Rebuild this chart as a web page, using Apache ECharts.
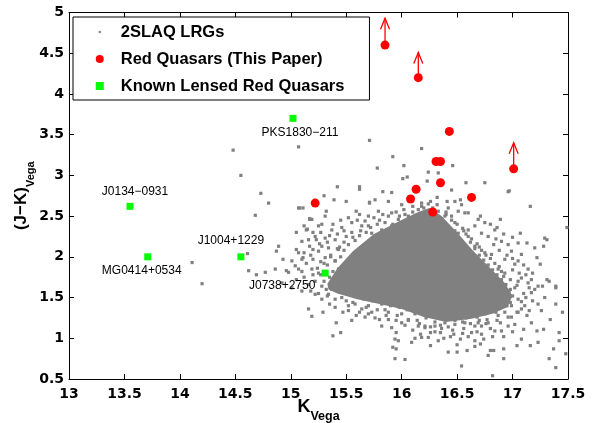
<!DOCTYPE html>
<html lang="en">
<head>
    <meta charset="UTF-8">
    <title>K vs J-K</title>
    <script src="https://cdn.jsdelivr.net/npm/echarts@6/dist/echarts.min.js"></script>
</head>
<style>
    html, body {
        margin: 0;
        height: 100%;
        background: #fff;
    }
</style>
<body>
<div id="main" style="width: 595px;height:423px"></div>
<script type="text/javascript">
    // red quasars (this paper)
    var redK = [15.85, 16.15, 16.43, 16.31, 16.35, 16.35, 17.01, 16.13, 16.08, 16.63, 16.28, 15.22];
    var redJK = [4.60, 4.20, 3.54, 3.17, 3.17, 2.91, 3.08, 2.83, 2.71, 2.73, 2.55, 2.66];

    // lower limits (arrows): base point and arrow tip
    var limitK = [15.85, 16.15, 17.01];
    var limitJK = [4.60, 4.20, 3.08];
    var limitTop = [4.93, 4.51, 3.40];

    // known lensed red quasars
    var lensNames = ['PKS1830\u2212211', 'J0134\u22120931', 'MG0414+0534', 'J1004+1229', 'J0738+2750'];
    var lensK = [15.02, 13.55, 13.71, 14.55, 15.31];
    var lensJK = [3.70, 2.62, 2.00, 2.00, 1.80];
    var lensLabelOffsets = [[7, 14], [5, -15], [-6, 14], [-10, -16], [-43, 13]];

    // 2SLAQ LRGs: outline of the solid dense core
    var lrgCore = [
        [15.33, 1.67], [15.42, 1.86], [15.56, 2.07], [15.75, 2.28], [15.98, 2.44], [16.15, 2.55],
        [16.25, 2.60], [16.36, 2.50], [16.50, 2.30], [16.64, 2.08], [16.80, 1.86], [16.93, 1.68],
        [17.00, 1.52], [16.95, 1.38], [16.82, 1.30], [16.63, 1.24], [16.40, 1.20], [16.20, 1.26],
        [16.00, 1.36], [15.80, 1.42], [15.60, 1.48], [15.42, 1.55], [15.34, 1.60]
    ];

    // 2SLAQ LRGs: individual points outside the core
    var lrgPoints = [
        [14.48, 3.31], [14.55, 3.00], [14.73, 2.78], [14.80, 2.66], [14.68, 2.51], [15.07, 2.60], [15.07, 3.35],
        [15.17, 2.47], [15.15, 2.34], [14.61, 2.04], [14.11, 1.93], [14.20, 1.67], [14.62, 1.83], [14.69, 1.78],
        [14.77, 1.81], [14.86, 1.85], [14.89, 2.13], [14.87, 2.07], [14.98, 1.81], [15.07, 2.05], [15.04, 1.89],
        [15.10, 1.97], [15.16, 2.21], [15.25, 2.38], [15.23, 2.21], [15.20, 2.09], [15.28, 2.13],
        [15.71, 3.43], [16.18, 3.33], [15.92, 3.23], [16.02, 3.12], [15.78, 3.09], [16.46, 3.12], [16.24, 3.04],
        [16.05, 2.98], [16.01, 2.96], [16.33, 3.03], [16.58, 2.91], [16.75, 2.91], [16.23, 2.93], [15.42, 2.86],
        [15.62, 2.83], [15.83, 2.80], [15.91, 2.79], [16.45, 2.82], [16.97, 2.81], [15.30, 2.75], [15.39, 2.70],
        [15.50, 2.68], [15.71, 2.67], [15.76, 2.70], [16.32, 2.73], [16.41, 2.68], [16.48, 2.68], [16.53, 2.70],
        [17.16, 2.62], [15.11, 2.60], [16.89, 2.46], [17.49, 2.36], [17.29, 2.23], [17.07, 2.29], [15.17, 2.46],
        [15.14, 2.33], [15.31, 2.50], [15.62, 2.52],
        [16.96, 2.80], [16.24, 2.65], [16.54, 2.64], [16.39, 2.50], [16.51, 2.56], [16.60, 2.54], [16.71, 2.50],
        [16.75, 2.42], [16.86, 2.36], [16.78, 2.25], [16.90, 2.19], [16.96, 2.15], [16.83, 2.15], [17.05, 2.17],
        [17.13, 2.17], [17.31, 2.21], [17.20, 2.11], [17.28, 2.13], [16.99, 2.07], [17.08, 2.03], [16.93, 1.97],
        [17.02, 1.91], [17.22, 1.99], [17.25, 1.91], [17.14, 1.85], [16.87, 1.85], [16.92, 1.76], [17.08, 1.74],
        [17.17, 1.72], [17.31, 1.72], [17.39, 1.64], [17.27, 1.64], [16.81, 2.03], [16.72, 1.93], [16.75, 2.05],
        [16.66, 2.13],
        [17.05, 1.70], [17.14, 1.68], [17.23, 1.64], [17.39, 1.62], [17.17, 1.56], [17.05, 1.48], [17.29, 1.50],
        [17.11, 1.40], [17.23, 1.42], [17.39, 1.42], [17.45, 1.32], [17.34, 1.23], [17.17, 1.19], [17.02, 1.17],
        [17.28, 1.11], [17.22, 1.09], [17.10, 1.11], [17.42, 1.07], [17.08, 0.99], [17.23, 0.95], [17.42, 0.97],
        [17.04, 0.91], [17.16, 0.91], [17.33, 0.75], [17.39, 0.64], [17.48, 0.81], [17.37, 0.87], [16.92, 0.87],
        [16.92, 0.75], [16.80, 0.85], [16.78, 0.79], [16.83, 0.85], [16.54, 0.66], [16.42, 0.83], [16.50, 0.83],
        [16.59, 0.85], [16.82, 0.54], [16.26, 0.91], [16.71, 0.93], [16.74, 0.99], [16.66, 0.97], [16.33, 0.97],
        [16.18, 1.01], [16.26, 1.07], [16.35, 1.07], [16.47, 1.05], [16.53, 0.99], [16.63, 1.07], [16.90, 1.09],
        [16.84, 1.09], [16.96, 1.15], [16.89, 1.19], [16.72, 1.15], [16.78, 1.19], [16.99, 1.26], [16.93, 1.32],
        [16.87, 1.28], [16.77, 1.23], [16.69, 1.19], [16.57, 1.19], [16.48, 1.17], [16.39, 1.19], [16.30, 1.15],
        [16.21, 1.13], [17.04, 1.32], [16.99, 1.40], [16.93, 1.48], [17.13, 1.28], [17.26, 1.34], [16.98, 1.60],
        [17.33, 1.70],
        [15.10, 1.58], [15.16, 1.36], [15.19, 1.27], [15.29, 1.32], [15.35, 1.42], [15.38, 1.03], [15.45, 1.07],
        [15.41, 1.19], [15.47, 1.32], [15.52, 1.40], [15.64, 1.36], [15.67, 1.26], [15.80, 1.23], [15.82, 1.15],
        [15.91, 1.13], [15.95, 1.07], [15.94, 0.99], [15.97, 0.97], [15.92, 0.89], [15.95, 0.87], [15.94, 0.75],
        [16.03, 0.74], [16.09, 0.95], [16.17, 1.05], [16.24, 1.01], [16.21, 1.15], [16.15, 1.15], [16.06, 1.23],
        [16.00, 1.19], [15.88, 1.23], [15.73, 1.32], [15.59, 1.28], [15.28, 1.48], [15.22, 1.54], [15.34, 1.54],
        [15.46, 1.50], [15.56, 1.44], [15.40, 1.38], [15.16, 1.66], [15.28, 1.64], [15.37, 1.60], [15.01, 1.62],
        [14.92, 1.68],
        [15.08, 2.60], [15.19, 2.46], [15.32, 2.56], [15.62, 2.86], [15.71, 2.66], [15.88, 2.68], [15.59, 2.56],
        [15.70, 2.50], [15.79, 2.56], [15.91, 2.54], [16.00, 2.64], [15.28, 2.40], [15.37, 2.33], [15.46, 2.36],
        [15.55, 2.42], [15.64, 2.38], [15.10, 2.19], [15.22, 2.25], [15.31, 2.23], [15.40, 2.21], [15.50, 2.25],
        [15.05, 2.09], [15.17, 2.13], [15.25, 2.07], [15.34, 2.11], [15.43, 2.09], [15.01, 1.95], [15.11, 1.99],
        [15.20, 1.97], [15.31, 1.99], [15.40, 1.95], [14.96, 1.83], [15.07, 1.85], [15.19, 1.85], [15.43, 1.85],
        [14.93, 1.97],
        [16.18, 2.62], [16.24, 2.54], [16.15, 2.46], [16.06, 2.50], [15.97, 2.46], [15.91, 2.38], [15.82, 2.33],
        [15.73, 2.29], [16.09, 2.33], [16.27, 2.38], [16.36, 2.46], [16.45, 2.50], [16.57, 2.54], [16.42, 2.60],
        [16.69, 2.46], [16.84, 2.33], [16.72, 2.29], [16.60, 2.33], [16.51, 2.29],
        [15.35, 1.75], [15.38, 1.82], [15.33, 1.90], [15.40, 1.95], [15.45, 2.00], [15.36, 2.02], [15.48, 2.08],
        [15.52, 2.15], [15.44, 2.12], [15.58, 2.20], [15.62, 2.26], [15.55, 2.30], [15.68, 2.30], [15.72, 2.36],
        [15.30, 1.70], [15.27, 1.78], [15.24, 1.86], [15.32, 1.60], [15.40, 1.62], [15.45, 1.57],
        [15.78, 2.40], [15.85, 2.42], [15.92, 2.40], [15.98, 2.50], [16.03, 2.52], [16.10, 2.55], [16.15, 2.58],
        [16.20, 2.60], [16.28, 2.60], [16.33, 2.56], [16.40, 2.52], [16.45, 2.45], [16.50, 2.40], [16.55, 2.35],
        [16.58, 2.28], [15.90, 2.35], [16.05, 2.44], [16.12, 2.50], [16.30, 2.52], [16.48, 2.32],
        [16.62, 2.18], [16.66, 2.10], [16.70, 2.02], [16.74, 1.96], [16.78, 1.90], [16.82, 1.84], [16.86, 1.78],
        [16.90, 1.72], [16.94, 1.66], [16.97, 1.58], [17.00, 1.52], [16.98, 1.44], [16.95, 1.40], [16.72, 2.08],
        [16.80, 1.98], [16.88, 1.88], [16.93, 1.80], [17.02, 1.62], [16.60, 2.25], [16.68, 2.16],
        [16.85, 1.32], [16.75, 1.30], [16.68, 1.26], [16.58, 1.25], [16.48, 1.22], [16.40, 1.24], [16.30, 1.20],
        [16.22, 1.25], [16.12, 1.30], [16.05, 1.35], [15.98, 1.38], [15.90, 1.40], [15.82, 1.42], [15.74, 1.46],
        [15.66, 1.48], [15.58, 1.52], [15.52, 1.56], [16.55, 1.20], [16.70, 1.22], [16.18, 1.35], [16.00, 1.30],
        [15.85, 1.35], [15.70, 1.40], [16.35, 1.16], [16.62, 1.18],
        [15.22, 1.70], [15.25, 1.80], [15.30, 1.92], [15.36, 2.00], [15.42, 2.10], [15.48, 2.18], [15.56, 2.24],
        [15.63, 2.32], [15.70, 2.38], [15.80, 2.45], [15.88, 2.50], [15.95, 2.55], [16.02, 2.58], [16.10, 2.62],
        [16.18, 2.66], [15.18, 1.58], [15.25, 1.55], [15.33, 1.52], [15.40, 1.48], [15.50, 1.46], [15.58, 1.42],
        [15.68, 1.38], [15.78, 1.35], [15.88, 1.32], [15.96, 1.28], [16.06, 1.22], [16.16, 1.18], [16.26, 1.14],
        [16.36, 1.12], [16.46, 1.10], [16.56, 1.12], [16.66, 1.15], [16.76, 1.18], [16.86, 1.22], [16.96, 1.26],
        [17.05, 1.32], [17.08, 1.45], [17.10, 1.55], [17.04, 1.65], [16.98, 1.72], [16.90, 1.82], [16.84, 1.92],
        [16.76, 2.02], [16.70, 2.12], [16.63, 2.22], [16.56, 2.32], [16.48, 2.42], [16.40, 2.55], [16.32, 2.64],
        [16.26, 2.68],
        [15.05, 2.30], [15.12, 2.38], [15.20, 2.30], [15.27, 2.30], [15.35, 2.26], [15.42, 2.28], [15.48, 2.32],
        [15.38, 2.40], [15.45, 2.45], [15.52, 2.48], [15.60, 2.45], [15.67, 2.44], [15.75, 2.48], [15.83, 2.52],
        [15.26, 2.16], [15.33, 2.18], [15.12, 2.05], [15.18, 2.02], [15.27, 1.94], [15.14, 1.92], [15.20, 1.78],
        [15.12, 1.75], [15.05, 1.72], [15.10, 1.82],
        [16.95, 2.02], [17.00, 1.98], [17.05, 1.95], [17.10, 1.90], [17.00, 1.84], [17.06, 1.80], [17.12, 1.78],
        [17.18, 1.80], [17.20, 1.60], [17.15, 1.62], [17.12, 1.50], [17.18, 1.46], [17.08, 1.36], [17.15, 1.34],
        [16.88, 2.08], [16.85, 2.22], [16.92, 2.28], [17.00, 2.24], [16.80, 2.40], [16.66, 2.38],
        [15.70, 1.30], [15.76, 1.25], [15.86, 1.28], [15.95, 1.22], [16.03, 1.16], [16.10, 1.10], [16.14, 1.22],
        [16.30, 1.08], [16.42, 1.14], [16.44, 1.02], [16.55, 1.06], [16.60, 1.02], [16.68, 1.08], [16.80, 1.12],
        [16.82, 1.02], [16.92, 1.02], [17.00, 1.08], [16.72, 1.05], [16.12, 1.00], [16.38, 1.00], [15.62, 1.32],
        [15.52, 1.34], [15.55, 1.22], [16.50, 0.92], [16.66, 0.90]
    ];

    var GRAY = '#808080';
    var tickFont = {fontFamily: 'DejaVu Sans', fontWeight: 'bold', fontSize: 14, color: '#000'};

    var redData = redK.map(function (k, i) { return [k, redJK[i]]; });
    var limitData = limitK.map(function (k, i) { return [k, limitJK[i], limitTop[i]]; });
    var lensData = lensK.map(function (k, i) {
        return {
            value: [k, lensJK[i]],
            label: {
                show: true,
                formatter: lensNames[i],
                position: 'inside',
                offset: lensLabelOffsets[i]
            }
        };
    });

    function sideAxis(pos, min, max, isX, showLabel) {
        return {
            type: 'value',
            position: pos,
            min: min,
            max: max,
            interval: 0.5,
            splitLine: {show: false},
            axisLine: {show: true, onZero: false, lineStyle: {color: '#000', width: 1}},
            axisTick: {show: true, inside: true, length: 5, lineStyle: {color: '#000'}},
            axisLabel: Object.assign({show: showLabel, margin: isX ? 8 : 5}, tickFont)
        };
    }

    var xBottom = sideAxis('bottom', 13, 17.5, true, true);
    xBottom.name = '{k|K}{s|Vega}';
    xBottom.nameLocation = 'middle';
    xBottom.nameGap = 19;
    xBottom.nameMoveOverlap = false;
    xBottom.nameTextStyle = {
        fontFamily: 'Liberation Sans', fontWeight: 'bold', color: '#000',
        rich: {
            k: {fontFamily: 'Liberation Sans', fontWeight: 'bold', fontSize: 18, lineHeight: 22, verticalAlign: 'top'},
            s: {fontFamily: 'Liberation Sans', fontWeight: 'bold', fontSize: 12.5, lineHeight: 12, padding: [12, 0, 0, 0], verticalAlign: 'top'}
        }
    };

    var yLeft = sideAxis('left', 0.5, 5, false, true);
    yLeft.name = '{k|(J\u2212K)}{s|Vega}';
    yLeft.nameLocation = 'middle';
    yLeft.nameGap = 36;
    yLeft.nameMoveOverlap = false;
    yLeft.nameTextStyle = {
        fontFamily: 'Liberation Sans', fontWeight: 'bold', color: '#000',
        rich: {
            k: {fontFamily: 'Liberation Sans', fontWeight: 'bold', fontSize: 17, lineHeight: 20, verticalAlign: 'top'},
            s: {fontFamily: 'Liberation Sans', fontWeight: 'bold', fontSize: 11, lineHeight: 12, padding: [12, 0, 0, 0], verticalAlign: 'top'}
        }
    };

    var myChart = echarts.init(document.getElementById('main'));
    var option = {
        animation: false,
        backgroundColor: '#fff',
        grid: {left: 69, right: 27, top: 12.5, bottom: 44, containLabel: false, outerBoundsMode: 'none'},
        xAxis: [xBottom, sideAxis('top', 13, 17.5, true, false)],
        yAxis: [yLeft, sideAxis('right', 0.5, 5, false, false)],
        legend: {
            orient: 'vertical',
            left: 73,
            top: 17,
            padding: [6, 25, 5, 20],
            itemGap: 9,
            itemWidth: 32,
            itemHeight: 8,
            borderColor: '#000',
            borderWidth: 1,
            borderRadius: 0,
            backgroundColor: '#fff',
            selectedMode: false,
            textStyle: {fontFamily: 'Liberation Sans', fontWeight: 'bold', fontSize: 16.5, lineHeight: 18, color: '#000'},
            data: [
                {name: '2SLAQ LRGs', icon: 'circle', itemStyle: {color: GRAY, borderColor: '#fff', borderWidth: 5.5}},
                {name: 'Red Quasars (This Paper)', icon: 'circle'},
                {name: 'Known Lensed Red Quasars', icon: 'path://M0,0H10V10H0Z'}
            ]
        },
        series: [
            {
                name: 'LRG core',
                type: 'custom',
                silent: true,
                z: 1,
                data: [lrgCore[0]],
                renderItem: function (params, api) {
                    var pts = lrgCore.map(function (p) { return api.coord(p); });
                    return {type: 'polygon', shape: {points: pts}, style: {fill: GRAY}};
                }
            },
            {
                name: '2SLAQ LRGs',
                type: 'scatter',
                z: 2,
                symbol: 'rect',
                symbolSize: 3.2,
                itemStyle: {color: GRAY, opacity: 1},
                data: lrgPoints
            },
            {
                name: 'Red Quasars (This Paper)',
                type: 'scatter',
                z: 4,
                symbol: 'circle',
                symbolSize: 9,
                itemStyle: {color: '#ff0000', opacity: 1},
                data: redData
            },
            {
                name: 'limits',
                type: 'custom',
                silent: true,
                z: 3,
                data: limitData,
                renderItem: function (params, api) {
                    var p0 = api.coord([api.value(0), api.value(1)]);
                    var p1 = api.coord([api.value(0), api.value(2)]);
                    var st = {stroke: '#ff0000', lineWidth: 1.3, fill: null};
                    return {
                        type: 'group',
                        children: [
                            {type: 'line', shape: {x1: p0[0], y1: p0[1], x2: p1[0], y2: p1[1]}, style: st},
                            {type: 'polyline', shape: {points: [[p1[0] - 4.5, p1[1] + 11], p1, [p1[0] + 4.5, p1[1] + 11]]}, style: st}
                        ]
                    };
                }
            },
            {
                name: 'Known Lensed Red Quasars',
                type: 'scatter',
                z: 5,
                symbol: 'rect',
                symbolSize: 7,
                itemStyle: {color: '#00ff00', opacity: 1},
                label: {
                    fontFamily: 'Liberation Sans',
                    fontSize: 12,
                    color: '#000',
                    align: 'center',
                    verticalAlign: 'middle'
                },
                data: lensData
            }
        ]
    };
    myChart.setOption(option);
</script>
</body>
</html>
